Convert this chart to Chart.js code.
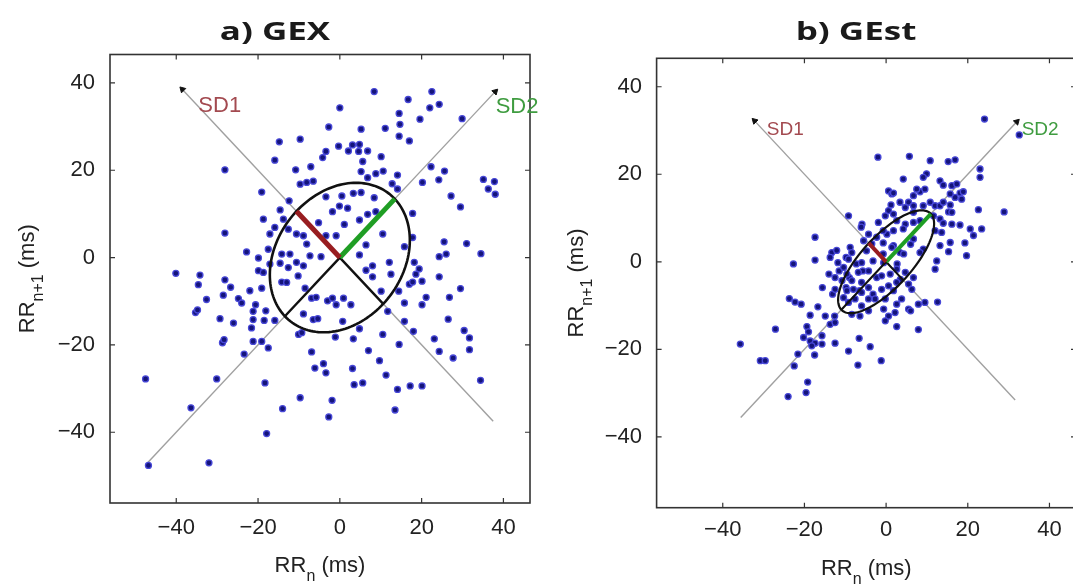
<!DOCTYPE html>
<html>
<head>
<meta charset="utf-8">
<script src="https://cdn.jsdelivr.net/npm/chart.js@4.4.0/dist/chart.umd.min.js"></script>
<style>
    html, body { margin: 0; padding: 0; background: #fff; overflow: hidden; }
    #wrap { position: relative; width: 1073px; height: 586px; overflow: hidden; }
    canvas { position: absolute; top: 0; }
    #gexChart { left: 0; }
    #gestChart { left: 545px; }
</style>
</head>
<body>
<div id="wrap">
    <canvas id="gexChart" width="540" height="586"></canvas>
    <canvas id="gestChart" width="545" height="586"></canvas>
</div>
<script>
// Axis ticks and range (ms), same for both panels
var tickValues = [-40, -20, 0, 20, 40];
var axisMin = -56.2;
var axisMax = 46.5;

// a) GEX : RR_n / RR_n+1 pairs
var gexRRn = [
    -14.8, -9.7, -15.9, -28.1, -10.8, -7.1, -9.7, -8.1, -6.5, -19.1,
    -12.4, -14.6, -18.7, -13.8, -15.9, -12.6, -10.6, -8.9, -8.1, -28.1,
    -17.1, -22.8, -17.5, -19.9, -14.2, -12.2, -17.1, -14.6, -12.6, -10.6,
    -8.9, -10.2, -7.3, -19.9, -18.7, -40.1, -34.2, -28.1,
    8.4, 22.5, 16.7, 24.3, 22.0, 0.0, 29.9, 19.6, -2.7, 5.2,
    11.1, 14.7, 14.5, 14.5, 17.0, -0.3, 3.1, 4.8, 2.1, 4.6,
    6.8, 10.1, -3.4, -4.2, 5.6, 5.2, 8.8, 10.6, 6.8, 14.1,
    22.3, 25.6, 24.2, 20.2, 35.1, 37.8, 36.3, 38.0, 12.8, 14.1,
    -3.4, 0.5, 3.3, 5.2, 8.4, -1.8, 1.9, -0.1, 27.2, 29.5,
    17.8, -5.2, 1.1, 4.8, 6.8, 8.8, 10.5, 17.8, -3.4, -0.9,
    25.5, 31.0, 34.5, 26.0, 24.3, 6.4, 15.8, 4.8, -4.6, 12.1,
    8.0, 6.4, 18.2, 19.4, 8.0, 12.5, 24.3, 18.6,
    -34.6, -26.7, -32.6, -28.5, -24.8, -24.0, -22.0, -19.1, -35.3, -34.8,
    -20.6, -21.2, -18.1, -21.2, -18.5, -15.9, -29.3, -26.0, -21.6, -28.7,
    -28.3, -21.2, -19.1, -17.5, -23.4, -47.5, -30.1, -18.3, -36.4, -17.9,
    -46.8, -32.0, -9.7, -14.0, -10.1, -9.3, -6.9, -6.1, -8.5, -6.9,
    -8.9, -6.5, -14.2, -13.0,
    -5.8, -3.0, -1.8, -0.9, 0.9, 2.7, 10.1, 14.4, 17.0, 17.8,
    20.1, 15.8, 20.1, 21.1, 26.8, 29.5, -5.4, 0.7, 4.8, 11.7,
    -1.1, 3.3, 10.5, 14.5, 15.8, 18.0, 23.1, 24.3, 27.7, 26.5,
    30.4, 31.7, 31.7, 7.0, 9.7, -3.4, -4.0, 3.1, 11.3, 3.5,
    5.6, 14.1, 17.2, 20.1, 34.4, -1.9, -2.7, 13.5
];
var gexRRn1 = [
    26.5, 27.1, 22.3, 20.1, 20.1, 20.8, 16.8, 17.2, 17.5, 15.0,
    13.0, 10.9, 8.8, 8.8, 6.9, 6.5, 5.4, 5.0, 3.1, 5.6,
    5.4, 1.3, 1.9, -0.1, 0.8, 0.8, -1.5, -1.3, -2.3, -1.1,
    -1.9, -4.2, 0.4, -3.0, -3.4, -3.6, -4.0, -5.1,
    38.0, 38.0, 36.2, 35.1, 34.3, 34.3, 31.8, 31.7, 29.9, 29.4,
    29.6, 30.5, 33.0, 27.8, 26.7, 25.5, 25.8, 25.9, 24.4, 24.3,
    24.4, 23.1, 24.3, 22.9, 22.0, 19.7, 19.2, 19.8, 18.3, 18.9,
    20.8, 19.8, 17.8, 17.2, 17.9, 17.4, 15.7, 14.5, 16.9, 15.7,
    13.9, 14.1, 14.7, 14.9, 13.7, 10.5, 11.3, 11.8, 14.1, 11.6,
    10.1, 8.0, 7.6, 8.6, 9.9, 10.5, 5.4, 4.6, 5.0, 5.0,
    3.6, 3.2, 0.9, 0.8, 0.2, 2.9, 2.5, 0.6, 0.2, -1.1,
    -1.9, -2.9, -1.1, -2.6, -4.4, -3.8, -4.4, -3.8,
    -6.2, -6.8, -9.6, -8.6, -9.4, -10.4, -7.6, -7.0, -12.6, -12.0,
    -10.8, -12.3, -12.2, -14.2, -14.4, -14.4, -14.0, -15.0, -16.1, -19.5,
    -18.8, -19.2, -19.2, -20.7, -22.1, -27.8, -27.8, -28.7, -34.4, -40.3,
    -47.6, -47.0, -32.1, -34.6, -17.6, -17.2, -21.6, -25.3, -7.0, -9.3,
    -12.9, -14.2, -5.6, -5.7,
    -9.1, -9.9, -9.3, -10.8, -9.3, -10.8, -7.7, -7.7, -6.1, -5.6,
    -5.4, -10.4, -10.8, -9.1, -9.1, -7.1, -14.0, -14.6, -16.3, -12.3,
    -18.2, -18.6, -17.6, -19.9, -14.6, -16.9, -18.6, -21.5, -23.0, -14.1,
    -16.7, -18.4, -21.1, -21.3, -23.6, -26.4, -24.3, -25.4, -26.9, -29.1,
    -28.7, -30.2, -29.4, -29.4, -28.1, -32.7, -36.5, -34.9
];
var gexSD1 = 15;
var gexSD2 = 19;
var gexDiagLine = [[-47, -47], [38, 38]];
var gexCrossLine = [[37.5, -37.5], [-38.5, 38.5]];

// b) GEst : RR_n / RR_n+1 pairs
var gestRRn = [
    -2.0, 0.6, 1.4, 1.2, -9.2, -5.9, -1.9, -0.2, -17.4, -4.3,
    0.2, -13.3, -8.8, -8.4, -13.7, -17.4, -5.5, -2.3, -3.5, 0.6, -12.1,
    24.1, 32.6, 5.7, 10.8, 15.2, 16.9, 23.0, 23.0, 9.9, 9.1,
    4.2, 13.2, 14.0, 16.1, 17.3, 1.8, 3.4, 5.5, 6.7, 8.3,
    9.5, 7.5, 18.1, 18.9, 18.5, 16.9, 15.7, 4.7, 6.7, 9.1,
    10.8, 12.0, 13.2, 14.0, 15.7, 22.6, 28.9, 1.8, 6.7, 11.6,
    15.3, 16.1, 13.2, 2.6, 4.7, 6.7, 8.3, 14.0, 16.1, 18.1,
    20.6, 21.4, 23.4, 1.8, 4.2, 12.0, 13.6, -0.7, 1.8, 6.7,
    9.1, 13.2, 15.7, 19.3, 8.3, 15.3, 19.7, 3.4,
    -6.1, -0.7, -9.8, -7.3, -4.8, -3.2, -0.7, 1.4, 2.7, 4.3,
    6.0, -11.5, -9.0, -5.7, -2.3, 1.0, 3.5, -9.8, -6.5, -3.2,
    1.8, -15.6, -13.1, -14.0,
    -22.7, -23.7, -22.3, -20.8, -16.7, -18.6, -14.9, -12.6, -13.7, -12.5,
    -27.1, -19.4, -19.0, -15.7, -20.2, -18.6, -17.4, -18.2, -15.7, -12.5,
    -35.7, -21.6, -17.5, -9.2, -6.6, -3.9, -30.8, -29.6, -22.5, -6.9,
    -1.2, -19.2, -19.6, -24.0, 2.6, 7.9, -11.8, -10.4, -9.2, -6.0,
    -6.8, -9.6, -8.4, -6.0, -12.5, -8.0, -6.0, -4.3, -1.1, 0.6,
    2.6, 5.5, 6.7, -2.7, -0.2, 2.6, -9.2, -10.4, -7.6, -6.0,
    -8.4, -6.4, -4.3, -0.6, 0.6, 2.6, 4.7, 12.4, 12.0, -4.3,
    -1.1, -0.6, -10.8, -12.5, -4.3, 3.8, 6.3, -0.2, 2.2, 5.5,
    7.9, 9.5, 12.6, 6.0, -9.6
];
var gestRRn1 = [
    23.9, 16.2, 15.5, 13.0, 10.5, 8.6, 9.0, 10.5, 5.6, 6.3,
    6.3, 2.1, 3.3, 2.1, 1.0, 0.4, 4.8, 5.6, 4.1, 11.7, 2.6,
    32.6, 29.0, 24.1, 23.1, 22.9, 23.3, 21.2, 19.3, 20.1, 19.3,
    18.9, 18.5, 17.5, 17.4, 17.8, 15.7, 13.6, 13.6, 15.1, 16.0,
    16.6, 16.6, 15.7, 16.0, 14.3, 14.7, 15.5, 12.4, 12.8, 12.8,
    13.6, 12.8, 12.8, 13.6, 13.0, 11.9, 11.4, 10.9, 11.3, 10.5,
    11.4, 11.3, 9.8, 9.4, 8.6, 9.0, 9.4, 8.8, 8.6, 8.4,
    7.5, 6.0, 7.5, 7.1, 7.5, 7.1, 6.7, 4.3, 3.7, 5.2,
    2.9, 3.7, 4.4, 4.3, 2.1, 2.3, 1.4, 2.1,
    7.9, 7.1, 1.0, -0.5, 2.5, 0.2, 1.8, 3.3, -0.5, 1.8,
    4.0, -2.1, -3.6, -2.1, -3.6, -2.8, -4.0, -5.9, -6.6, -7.4,
    -6.6, -5.9, -7.4, -2.8,
    -0.5, -8.4, -9.2, -9.7, -10.3, -12.2, -12.4, -12.4, -14.3, -13.9,
    -15.4, -14.8, -16.0, -16.9, -17.3, -18.1, -18.6, -19.2, -18.8, -18.6,
    -18.8, -21.1, -21.3, -20.4, -17.5, -19.4, -22.6, -22.6, -23.8, -23.6,
    -22.6, -27.5, -29.9, -30.8, -14.8, -15.5, -0.2, -1.3, 0.6, -0.2,
    -2.4, -2.8, -4.3, -4.7, -6.3, -6.3, -7.0, -5.9, -6.3, -5.5,
    -4.7, -5.1, -3.6, -8.5, -8.5, -9.7, -9.3, -8.2, -8.5, -10.1,
    -12.0, -12.4, -11.2, -10.8, -12.4, -1.7, -2.4, 0.2, -1.7, -2.1,
    -3.2, -0.2, -4.3, -3.6, -8.5, -8.5, -6.3, -13.5, -11.6, -10.8,
    -9.7, -9.3, -9.2, -11.2, -6.6
];
var gestSD1 = 6;
var gestSD2 = 15.5;
var gestDiagLine = [[-35.6, -35.6], [32, 32]];
var gestCrossLine = [[31.6, -31.6], [-32.2, 32.2]];

var FONT = '"Liberation Sans", Arial, sans-serif';

function fmtTick(v) {
    return v < 0 ? '\u2212' + Math.abs(v) : String(v);
}

// draws "RR" + subscript + " (ms)" centred on the current origin
function drawSubLabel(ctx, main, sub, rest) {
    ctx.font = '22px ' + FONT;
    var w1 = ctx.measureText(main).width;
    var w3 = ctx.measureText(rest).width;
    ctx.font = '16px ' + FONT;
    var w2 = ctx.measureText(sub).width;
    var x = -(w1 + w2 + w3) / 2;
    ctx.textAlign = 'left';
    ctx.textBaseline = 'alphabetic';
    ctx.font = '22px ' + FONT;
    ctx.fillText(main, x, 0);
    ctx.font = '16px ' + FONT;
    ctx.fillText(sub, x + w1, 9);
    ctx.font = '22px ' + FONT;
    ctx.fillText(rest, x + w1 + w2, 0);
}

function poincareChart(canvasId, rrn, rrn1, sd1, sd2, diagLine, crossLine, look) {
    var canvas = document.getElementById(canvasId);
    var W = canvas.width, H = canvas.height;
    var h = Math.SQRT1_2;

    function seg(x2, y2, color, width, order) {
        return {
            data: [{ x: 0, y: 0 }, { x: x2, y: y2 }],
            showLine: true, borderColor: color, borderWidth: width,
            pointRadius: 0, borderCapStyle: 'butt', order: order
        };
    }
    function guide(ends, rot) {
        return {
            data: ends.map(function (p) { return { x: p[0], y: p[1] }; }),
            showLine: true, borderColor: '#a0a0a0', borderWidth: 1.4,
            pointRadius: [0, 3.5], pointStyle: 'triangle', pointRotation: rot,
            pointBackgroundColor: '#111', pointBorderColor: '#111', pointBorderWidth: 1,
            order: 6
        };
    }

    var datasets = [
        {
            data: rrn.map(function (v, i) { return { x: v, y: rrn1[i] }; }),
            pointRadius: 3, pointBorderWidth: 1.3,
            pointBackgroundColor: '#14147a', pointBorderColor: '#4848d8',
            order: 5
        },
        guide(diagLine, 45),
        guide(crossLine, -45),
        seg(-sd2 * h, -sd2 * h, '#111', look.axisWidth, 3),
        seg(sd1 * h, -sd1 * h, '#111', look.axisWidth, 3),
        seg(-sd1 * h, sd1 * h, '#981d20', look.sdWidth, 1),
        seg(sd2 * h, sd2 * h, '#1f9e24', look.sdWidth, 1)
    ];

    function axis(pad, fit) {
        return {
            type: 'linear', min: axisMin, max: axisMax,
            grid: { display: false, drawTicks: false },
            border: { display: false },
            afterBuildTicks: function (s) {
                s.ticks = tickValues.map(function (v) { return { value: v }; });
            },
            afterFit: fit,
            ticks: {
                padding: pad, autoSkip: false, maxRotation: 0,
                color: '#222', font: { family: FONT, size: 22 },
                callback: fmtTick
            }
        };
    }

    var decor = {
        id: 'decor' + canvasId,
        afterDatasetDraw: function (chart, args) {
            if (args.index !== 0) return;
            // SD ellipse on top of the scatter
            var xs = chart.scales.x, ys = chart.scales.y, ctx = chart.ctx, a = chart.chartArea;
            ctx.save();
            ctx.beginPath();
            ctx.rect(a.left, a.top, a.right - a.left, a.bottom - a.top);
            ctx.clip();
            ctx.beginPath();
            for (var k = 0; k <= 160; k++) {
                var t = k / 160 * 2 * Math.PI;
                var u = sd2 * Math.cos(t), v = sd1 * Math.sin(t);
                var px = xs.getPixelForValue((u - v) * h);
                var py = ys.getPixelForValue((u + v) * h);
                if (k === 0) ctx.moveTo(px, py); else ctx.lineTo(px, py);
            }
            ctx.closePath();
            ctx.lineWidth = look.ellipseWidth;
            ctx.strokeStyle = '#111';
            ctx.stroke();
            ctx.restore();
        },
        afterDraw: function (chart) {
            var xs = chart.scales.x, ys = chart.scales.y, ctx = chart.ctx, a = chart.chartArea;
            ctx.save();
            // box with inward ticks
            ctx.strokeStyle = '#333';
            ctx.lineWidth = 1.6;
            ctx.strokeRect(a.left, a.top, a.right - a.left, a.bottom - a.top);
            ctx.beginPath();
            tickValues.forEach(function (v) {
                var px = xs.getPixelForValue(v), py = ys.getPixelForValue(v);
                ctx.moveTo(px, a.bottom); ctx.lineTo(px, a.bottom - 5);
                ctx.moveTo(px, a.top); ctx.lineTo(px, a.top + 5);
                ctx.moveTo(a.left, py); ctx.lineTo(a.left + 5, py);
                ctx.moveTo(a.right, py); ctx.lineTo(a.right - 5, py);
            });
            ctx.lineWidth = 1.2;
            ctx.stroke();

            // SD labels
            ctx.font = look.sdFont + 'px ' + FONT;
            ctx.textAlign = 'left';
            ctx.textBaseline = 'middle';
            ctx.fillStyle = '#a34a50';
            ctx.fillText('SD1', xs.getPixelForValue(look.sd1Label[0]), ys.getPixelForValue(look.sd1Label[1]));
            ctx.fillStyle = '#3f9c40';
            ctx.fillText('SD2', xs.getPixelForValue(look.sd2Label[0]), ys.getPixelForValue(look.sd2Label[1]));

            // title
            ctx.fillStyle = '#1a1a1a';
            ctx.save();
            ctx.translate(look.titleX, 40);
            ctx.scale(1.4, 1);
            ctx.font = 'bold 25px "Open Sans", sans-serif';
            ctx.textAlign = 'center';
            ctx.textBaseline = 'alphabetic';
            ctx.fillText(look.title, 0, 0);
            ctx.restore();

            // axis titles
            ctx.fillStyle = '#222';
            ctx.save();
            ctx.translate((a.left + a.right) / 2, look.xLabelBase);
            drawSubLabel(ctx, 'RR', 'n', ' (ms)');
            ctx.restore();
            ctx.save();
            ctx.translate(look.yLabelBase, (a.top + a.bottom) / 2);
            ctx.rotate(-Math.PI / 2);
            drawSubLabel(ctx, 'RR', 'n+1', ' (ms)');
            ctx.restore();
            ctx.restore();
        }
    };

    return new Chart(canvas, {
        type: 'scatter',
        data: { datasets: datasets },
        options: {
            responsive: false,
            animation: false,
            events: [],
            layout: {
                autoPadding: false,
                padding: {
                    left: look.area.left - 100,
                    right: W - look.area.right,
                    top: look.area.top,
                    bottom: H - look.area.bottom - 60
                }
            },
            plugins: { legend: { display: false }, tooltip: { enabled: false } },
            scales: {
                x: axis(look.tickPadX, function (s) { s.height = 60; }),
                y: axis(look.tickPadY, function (s) { s.width = 100; })
            }
        },
        plugins: [decor]
    });
}

poincareChart('gexChart', gexRRn, gexRRn1, gexSD1, gexSD2, gexDiagLine, gexCrossLine, {
    area: { left: 110, right: 530, top: 54.5, bottom: 503 },
    tickPadX: 12, tickPadY: 15,
    title: 'a) GEX', titleX: 275,
    xLabelBase: 572, yLabelBase: 34,
    sdFont: 22, sd1Label: [-34.6, 34.7], sd2Label: [38.1, 34.5],
    ellipseWidth: 2.6, axisWidth: 2.4, sdWidth: 5
});

poincareChart('gestChart', gestRRn, gestRRn1, gestSD1, gestSD2, gestDiagLine, gestCrossLine, {
    area: { left: 111.6, right: 531, top: 58.3, bottom: 507.7 },
    tickPadX: 9, tickPadY: 14.6,
    title: 'b) GEst', titleX: 311,
    xLabelBase: 575, yLabelBase: 37.5,
    sdFont: 19, sd1Label: [-29.2, 30.2], sd2Label: [33.2, 30.2],
    ellipseWidth: 2.2, axisWidth: 2, sdWidth: 4
});
</script>
</body>
</html>
